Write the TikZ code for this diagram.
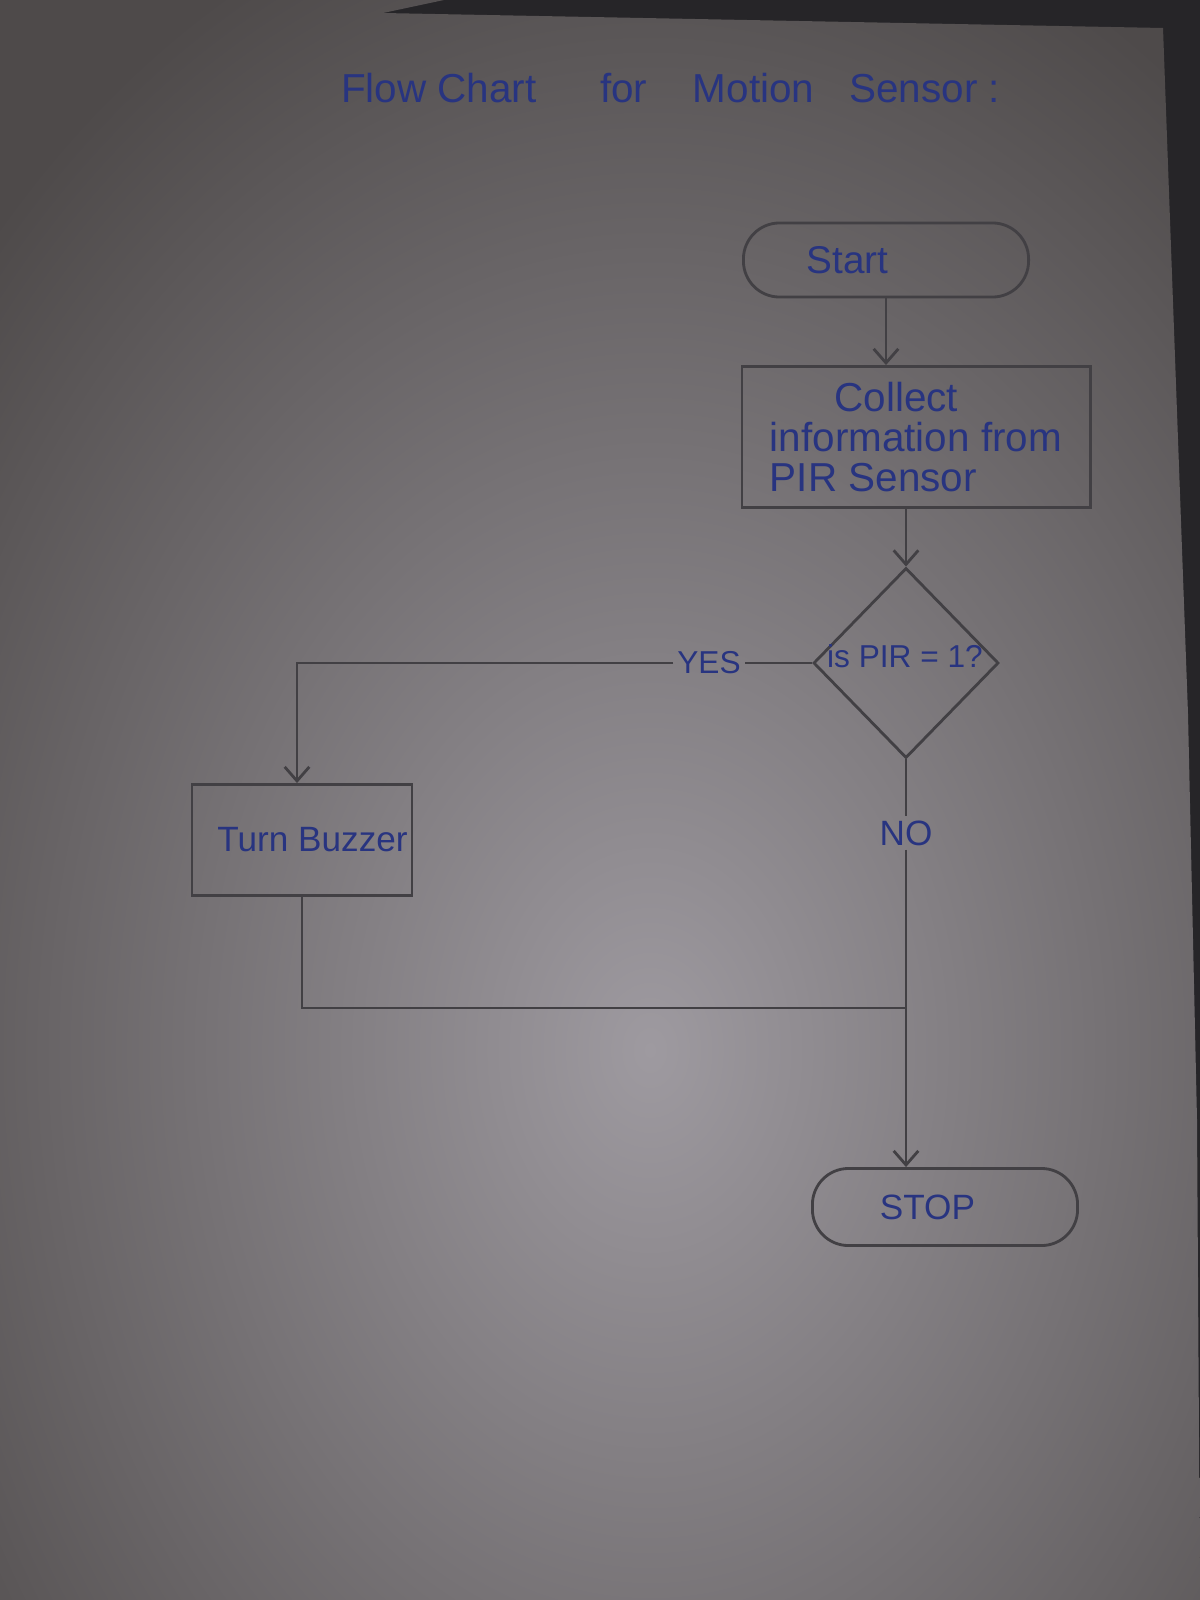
\documentclass[tikz,border=0pt]{standalone}
\usepackage{fontspec}
\setmainfont{Liberation Sans}
\usetikzlibrary{arrows.meta,shapes.geometric}
\definecolor{paperlight}{RGB}{158,154,160}
\definecolor{paperdark}{RGB}{78,74,74}
\definecolor{tabledark}{RGB}{38,37,40}
\definecolor{pencil}{RGB}{66,64,68}
\definecolor{ink}{RGB}{40,52,128}
\tikzset{
  >={Straight Barb[length=4pt,width=7pt]},
  pencil/.style={draw=pencil,line width=0.8pt},
  terminal/.style={pencil,rounded corners=0.36cm,text=ink},
  process/.style={pencil,text=ink},
  decision/.style={pencil,diamond,inner sep=0pt},
  inktext/.style={text=ink,inner sep=1pt}
}
\newcommand{\hand}[1]{\fontsize{#1}{#1}\selectfont}

\begin{document}
\begin{tikzpicture}[x=0.01cm,y=-0.01cm]
      \useasboundingbox (0,0) rectangle (1200,1600);
      \fill[tabledark] (0,0) rectangle (1200,1600);
      \begin{scope}
        \clip (0,0)--(444,0)--(383,13)--(1163,28)--(1188,714)--(1197,1120)
          --(1200,1600)--(0,1600)--cycle;
        \shade[inner color=paperlight,outer color=paperdark]
          (-250,-150) rectangle (1550,2250);
      \end{scope}
      \node[inktext,anchor=base west,font=\hand{11.5}] (title) at (337,103)
        {Flow Chart\hspace{18pt}for\hspace{13pt}Motion\hspace{10pt}Sensor :};
      \node[terminal,minimum width=2.85cm,minimum height=0.74cm,font=\hand{11}]
        (start) at (886,260) {Start\kern2em};
      \node[process,minimum width=3.48cm,minimum height=1.41cm,align=left,
        font=\fontsize{11.5}{11.5}\selectfont] (collect) at (916,437)
        {\hspace{1.6em}Collect\\information from\\PIR Sensor};
      \node[decision,minimum width=1.85cm,minimum height=1.90cm] (dec) at (906,663) {};
      \node[inktext,font=\hand{9}] (dectext) at (905,656) {is PIR = 1?};
      \node[inktext,font=\hand{9}] (yes) at (709,663) {YES};
      \node[process,inner xsep=0pt,minimum width=2.2cm,minimum height=1.11cm,
        font=\hand{10}] (buzz) at (302,840) {\kern0.6em Turn Buzzer};
      \node[inktext,font=\hand{10}] (no) at (906,833) {NO};
      \node[terminal,minimum width=2.65cm,minimum height=0.77cm,font=\hand{10}]
        (stop) at (945,1207) {STOP\kern1em};
      \coordinate (merge) at (906,1008);
      \draw[pencil,->] (start.south) -- (start.south |- collect.north);
      \draw[pencil,->] (collect.south -| dec.north) -- (dec.north);
      \draw[pencil] (dec.west) -- (yes.east);
      \draw[pencil,->] (yes.west) -| ([xshift=-0.05cm]buzz.north);
      \draw[pencil] (dec.south) -- (no.north);
      \draw[pencil,->] (no.south) -- (no.south |- stop.north);
      \draw[pencil] (buzz.south) |- (merge);
    \end{tikzpicture}
\end{document}
